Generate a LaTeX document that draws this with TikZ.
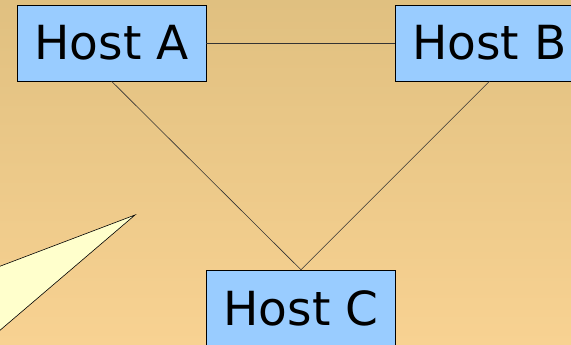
\documentclass[tikz,border=0pt]{standalone}
\usepackage{fontspec}
\setmainfont{DejaVu Sans}
\definecolor{sandtop}{RGB}{224,192,128}
\definecolor{sandbot}{RGB}{248,210,146}
\definecolor{hostblue}{RGB}{153,204,255}
\definecolor{notepale}{RGB}{255,255,204}
\tikzset{
  host/.style={draw=black, fill=hostblue, minimum width=189pt, minimum height=76pt,
    inner sep=0pt, font=\fontsize{47}{50}\selectfont},
  link/.style={draw=black!80, line width=0.6pt}
}
\begin{document}
\begin{tikzpicture}[x=1pt, y=1pt]
\useasboundingbox (0,0) rectangle (571,345);
\clip (0,0) rectangle (571,345);
% background
\shade[top color=sandtop, bottom color=sandbot] (0,0) rectangle (571,345);
% hosts
\node[host] (hostA) at (111.5,302) {Host A};
\node[host] (hostB) at (489.5,302) {Host B};
\node[host] (hostC) at (301,37) {Host C};
% links between hosts
\draw[link] (hostA.east) -- (hostB.west);
\draw[link] (hostA.south) -- (hostC.north);
\draw[link] (hostB.south) -- (hostC.north);
% callout pointer
\draw[fill=notepale, line width=0.6pt, line join=miter] (-2,78) -- (135,130) -- (-2,13) -- cycle;
\end{tikzpicture}
\end{document}
